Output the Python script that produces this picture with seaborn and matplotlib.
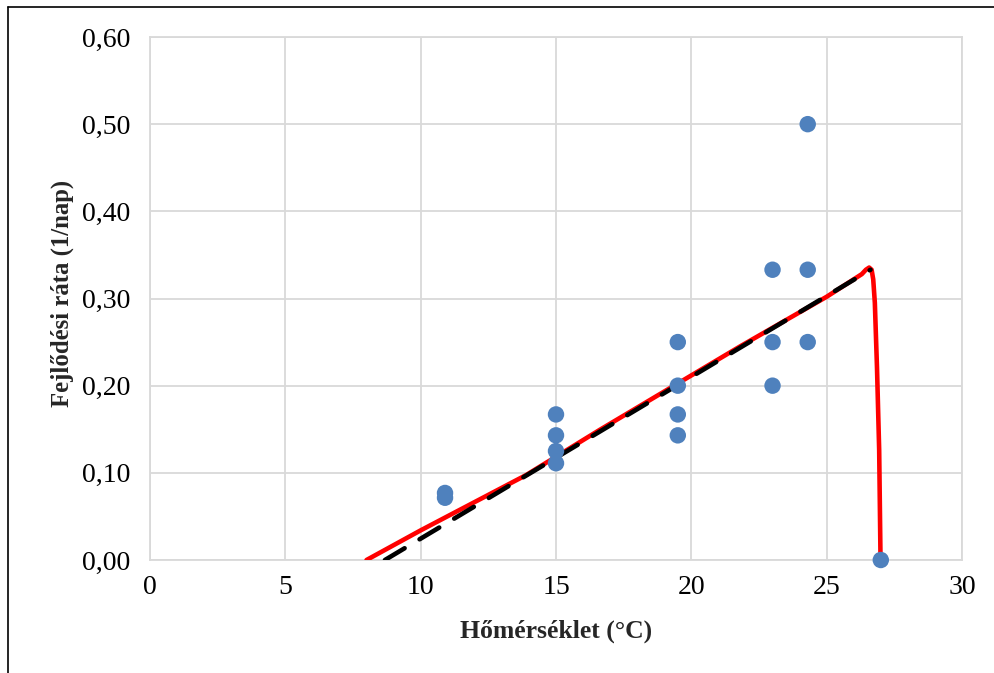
import matplotlib
matplotlib.use("Agg")
import matplotlib.pyplot as plt
import seaborn as sns
import pandas as pd
from matplotlib.lines import Line2D
from matplotlib.ticker import FuncFormatter

# observed development rates
obs_temp = [10.9, 10.9, 15, 15, 15, 15, 19.5, 19.5, 19.5, 19.5,
            23, 23, 23, 24.3, 24.3, 24.3, 27]
obs_rate = [0.0769, 0.0714, 0.167, 0.143, 0.125, 0.111, 0.25, 0.2, 0.167, 0.143,
            0.333, 0.25, 0.2, 0.5, 0.333, 0.25, 0.0]

# nonlinear model curve
model_temp = [8.0, 10.0, 13.9, 16.6, 21.8, 25.0, 26.3, 26.45, 26.57, 26.66,
              26.72, 26.78, 26.86, 26.94, 26.99]
model_rate = [0.0, 0.034, 0.0975, 0.149, 0.245, 0.302, 0.328, 0.333, 0.3355, 0.333,
              0.322, 0.295, 0.22, 0.126, 0.0]

# linear model
lin_temp = [8.68, 26.62]
lin_rate = [0.0, 0.333]

x_ticks = [0, 5, 10, 15, 20, 25, 30]
y_ticks = [0.0, 0.1, 0.2, 0.3, 0.4, 0.5, 0.6]
x_label = "Hőmérséklet (°C)"
y_label = "Fejlődési ráta (1/nap)"

sns.set_theme(style="white")
plt.rcParams['font.family'] = ['Liberation Serif', 'DejaVu Serif']

fig = plt.figure(figsize=(9.95, 6.73), dpi=100)
ax = fig.add_axes([150/995, 1-560/673, (962-150)/995, (560-37)/673])

grid_c = "#D9D9D9"
ax.set_axisbelow(True)
ax.grid(True, color=grid_c, linewidth=1.3)

df_obs = pd.DataFrame({"t": obs_temp, "r": obs_rate})
df_mod = pd.DataFrame({"t": model_temp, "r": model_rate})
df_lin = pd.DataFrame({"t": lin_temp, "r": lin_rate})

sns.lineplot(data=df_mod, x="t", y="r", ax=ax, color="#FF0000", linewidth=3.3,
             sort=False, estimator=None, zorder=3, solid_joinstyle="round",
             solid_capstyle="round")
sns.lineplot(data=df_lin, x="t", y="r", ax=ax, color="black", linewidth=3.3,
             sort=False, estimator=None, zorder=4, dashes=False)
ax.lines[-1].set_dashes((5.0, 3.8))
ax.lines[-1].set_dash_capstyle("round")
sns.scatterplot(data=df_obs, x="t", y="r", ax=ax, color="#4F81BD", s=140,
                edgecolor="none", zorder=5, clip_on=False)

ax.set_xlim(0, 30)
ax.set_ylim(0, 0.6)
ax.set_xticks(x_ticks)
ax.set_yticks(y_ticks)
ax.yaxis.set_major_formatter(FuncFormatter(lambda v, p: f"{v:.2f}".replace(".", ",")))
ax.xaxis.set_major_formatter(FuncFormatter(lambda v, p: f"{int(v)}"))
ax.tick_params(axis="both", length=0, labelsize=20, colors="black")
ax.tick_params(axis="y", pad=14)
ax.tick_params(axis="x", pad=11)

for s in ax.spines.values():
    s.set_color(grid_c)
    s.set_linewidth(1.3)

ax.set_xlabel(x_label, fontsize=18.5, fontweight="bold", labelpad=14)
ax.set_ylabel(y_label, fontsize=17.8, fontweight="bold", labelpad=6)
ax.yaxis.label.set_y((560 - 293) / 523)

# outer frame (top and left only visible)
fig.add_artist(Line2D([8/995, 1.0], [1-7/673, 1-7/673], color="black", linewidth=1.2,
                      transform=fig.transFigure))
fig.add_artist(Line2D([8/995, 8/995], [0.0, 1-7/673], color="black", linewidth=1.2,
                      transform=fig.transFigure))

fig.savefig("out.png", dpi=100)
